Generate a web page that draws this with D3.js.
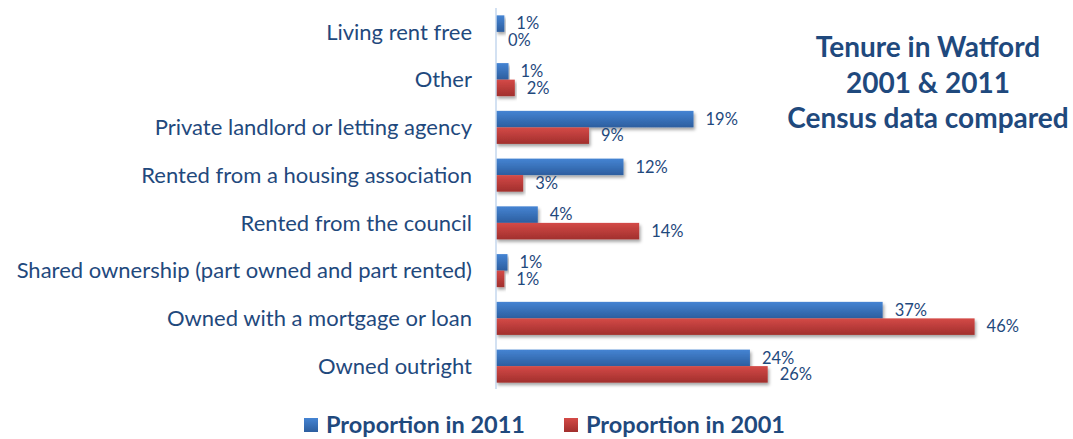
<!DOCTYPE html>
<html>
<head>
<meta charset="utf-8">
<script src="https://cdn.jsdelivr.net/npm/d3@7"></script>
<style>
  body { margin: 0; background: #fff; }
  svg { display: block; font-family: Lato, "Open Sans", sans-serif; }
</style>
</head>
<body>
<div id="chart"></div>
<script>
// categories, top to bottom
var categories = [
  "Living rent free",
  "Other",
  "Private landlord or letting agency",
  "Rented from a housing association",
  "Rented from the council ",
  "Shared ownership (part owned and part rented)",
  "Owned with a mortgage or loan",
  "Owned outright"
];

// percent values
var pct2011 = [0.8, 1.2, 18.9, 12.2, 4.0, 1.1, 37.0, 24.3];
var pct2001 = [0.0, 1.8, 8.9, 2.6, 13.7, 0.8, 45.8, 26.0];

var seriesNames = ["Proportion in 2011", "Proportion in 2001"];
var titleLines = ["Tenure in Watford", "2001 & 2011", "Census data compared"];

var width = 1073, height = 439;
var textColor = "#1F497D";

var svg = d3.select("#chart").append("svg")
  .attr("width", width)
  .attr("height", height);

var defs = svg.append("defs");

// bar gradients
function grad(id, top, bottom) {
  var g = defs.append("linearGradient").attr("id", id)
    .attr("x1", 0).attr("y1", 0).attr("x2", 0).attr("y2", 1);
  g.append("stop").attr("offset", "0%").attr("stop-color", top);
  g.append("stop").attr("offset", "100%").attr("stop-color", bottom);
}
grad("gBlue", "#4584D3", "#2C5E9F");
grad("gRed", "#D44A47", "#A12F2D");

var shadow = defs.append("filter").attr("id", "shadow")
  .attr("x", "-5%").attr("y", "-30%").attr("width", "115%").attr("height", "180%");
shadow.append("feDropShadow")
  .attr("dx", 1.5).attr("dy", 2.5).attr("stdDeviation", 1.5)
  .attr("flood-color", "#000").attr("flood-opacity", 0.35);

var data = categories.map(function(c, i) {
  return { cat: c, values: [pct2011[i], pct2001[i]] };
});

// scales
var axisX = 496;
var xScale = d3.scaleLinear().domain([0, 50]).range([axisX, axisX + 522.5]);
var yScale = d3.scaleBand().domain(categories).range([8, 390]);
var subScale = d3.scaleBand().domain([0, 1])
  .range([0, yScale.bandwidth()]).paddingOuter(0.445);

var fills = ["url(#gBlue)", "url(#gRed)"];

// category labels
svg.append("g").selectAll("text")
  .data(categories).enter()
  .append("text")
  .attr("x", 472)
  .attr("y", function(d) { return yScale(d) + yScale.bandwidth() / 2; })
  .attr("dy", "0.35em")
  .attr("text-anchor", "end")
  .attr("font-size", 22)
  .attr("fill", textColor)
  .text(function(d) { return d; });

// bars
var groups = svg.append("g").selectAll("g")
  .data(data).enter()
  .append("g")
  .attr("transform", function(d) { return "translate(0," + yScale(d.cat) + ")"; });

groups.selectAll("rect")
  .data(function(d) { return d.values.filter(function(v) { return v > 0; }); }).enter()
  .append("rect")
  .attr("x", xScale(0))
  .attr("y", function(d, i) { return subScale(i); })
  .attr("width", function(d) { return xScale(d) - xScale(0); })
  .attr("height", subScale.bandwidth())
  .attr("fill", function(d, i) { return fills[i]; })
  .attr("filter", "url(#shadow)");

// value labels
groups.selectAll("text")
  .data(function(d) { return d.values; }).enter()
  .append("text")
  .attr("x", function(d) { return xScale(d) + 12; })
  .attr("y", function(d, i) { return subScale(i) + subScale.bandwidth() / 2; })
  .attr("dy", "0.35em")
  .attr("font-size", 16.5)
  .attr("fill", textColor)
  .text(function(d) { return Math.round(d) + "%"; });

// vertical axis line
svg.append("line")
  .attr("x1", axisX).attr("x2", axisX)
  .attr("y1", 8).attr("y2", 389)
  .attr("stroke", "#C5D7EE").attr("stroke-width", 1.5);

// title
svg.append("g").selectAll("text")
  .data(titleLines).enter()
  .append("text")
  .attr("x", 928)
  .attr("y", function(d, i) { return 57 + i * 35.5; })
  .attr("text-anchor", "middle")
  .attr("font-size", 28)
  .attr("font-weight", "bold")
  .attr("fill", textColor)
  .text(function(d) { return d; });

// legend
var legendX = [304, 564];
var legend = svg.append("g").selectAll("g")
  .data(seriesNames).enter()
  .append("g")
  .attr("transform", function(d, i) { return "translate(" + legendX[i] + ",418)"; });

legend.append("rect")
  .attr("width", 14).attr("height", 14)
  .attr("fill", function(d, i) { return fills[i]; });

legend.append("text")
  .attr("x", 22).attr("y", 7)
  .attr("dy", "0.35em")
  .attr("font-size", 23.5)
  .attr("font-weight", "bold")
  .attr("fill", textColor)
  .text(function(d) { return d; });
</script>
</body>
</html>
